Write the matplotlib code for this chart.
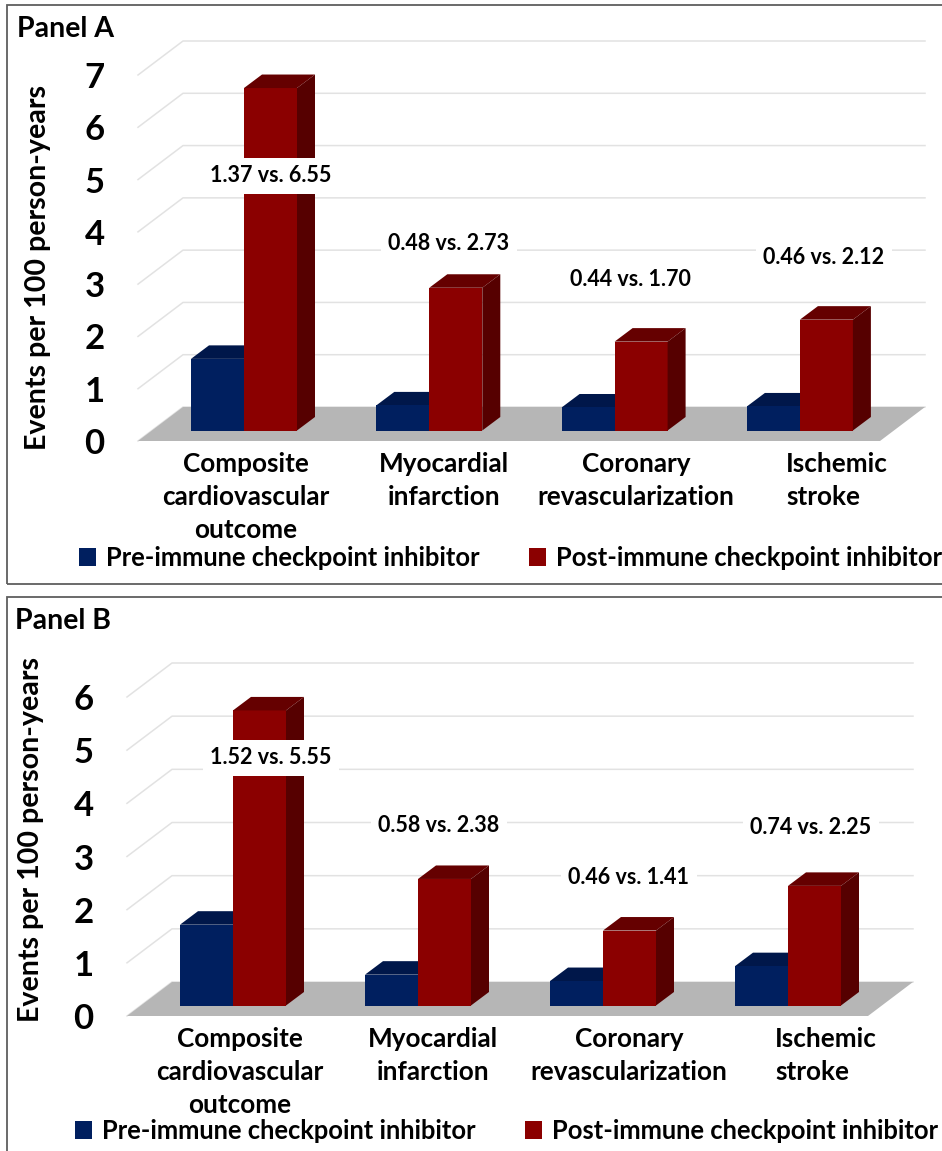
"""Pre vs post immune checkpoint inhibitor event rates, two faux-3D bar panels."""

import matplotlib
matplotlib.use("Agg")
import matplotlib.pyplot as plt
from matplotlib.patches import Patch, Polygon, Rectangle

plt.rcParams["font.family"] = ["Lato", "DejaVu Sans"]
plt.rcParams["font.weight"] = "bold"

categories = ["Composite\ncardiovascular\noutcome", "Myocardial\ninfarction",
              "Coronary\nrevascularization", "Ischemic\nstroke"]
series_names = ["Pre-immune checkpoint inhibitor", "Post-immune checkpoint inhibitor"]

pre_a = [1.37, 0.48, 0.44, 0.46]
post_a = [6.55, 2.73, 1.70, 2.12]
pre_b = [1.52, 0.58, 0.46, 0.74]
post_b = [5.55, 2.38, 1.41, 2.25]

W, H = 942, 1151
BLUE = ("#001F5F", "#00174A")
RED = ("#8B0000", "#650000", "#560000")
GRID = "#E2E2E2"
FLOOR = "#B6B6B6"

fig = plt.figure(figsize=(W / 100, H / 100), dpi=100, facecolor="white")


def fx(px):
    return px / W


def fy(py):
    return 1 - py / H


def draw_panel(title, pre, post, ymax, box, left, floor_y, top_y, group0, step,
               floor_right, label_pos, cat_x, ylabel_xy, title_xy, legend_x, legend_gap):
    fig.add_artist(Rectangle((fx(box[0]), fy(box[2])), 1.1, fy(box[1]) - fy(box[2]),
                             transform=fig.transFigure, fill=False,
                             edgecolor="#5E5E5E", linewidth=1.3))
    fig.text(fx(title_xy[0]), fy(title_xy[1]), title, fontsize=20.5, va="center", color="black")

    ax = fig.add_axes([fx(left), fy(floor_y), fx(W - left), fy(top_y) - fy(floor_y)])
    unit = (floor_y - top_y) / ymax
    ax.set_xlim((left - group0) / step, (W - group0) / step)
    ax.set_ylim(0, ymax)
    for s in ax.spines.values():
        s.set_visible(False)
    ax.patch.set_alpha(0)

    lift = 10.5 / unit            # bar base sits inside the floor
    back = 34 / unit              # floor depth, up
    back_x = 45 / step            # floor depth, across
    dx, dy = 18 / step, 13.5 / unit
    width = 53 / step

    # back wall gridlines with the stub towards the front
    x0 = ax.get_xlim()[0]
    x1 = (floor_right - group0) / step
    for v in range(ymax + 1):
        ax.plot([x0, x0 + back_x, x1 + back_x], [v, v + back, v + back],
                color=GRID, lw=1.1, zorder=1, clip_on=False)
    ax.add_patch(Polygon([(x0, 0), (x1, 0), (x1 + back_x, back), (x0 + back_x, back)],
                         facecolor=FLOOR, edgecolor="none", zorder=2, clip_on=False))

    xs = range(len(pre))
    for i in xs:
        xl = i - width
        top = lift + pre[i]
        ax.add_patch(Polygon([(xl, top), (i, top), (i + dx, top + dy), (xl + dx, top + dy)],
                             facecolor=BLUE[1], edgecolor="none", zorder=3, clip_on=False))
    ax.bar([i - width / 2 for i in xs], pre, width, bottom=lift, color=BLUE[0],
           zorder=4, clip_on=False)
    ax.bar([i + width / 2 for i in xs], post, width, bottom=lift, color=RED[0],
           zorder=5, clip_on=False)
    for i in xs:
        xr = i + width
        top = lift + post[i]
        ax.add_patch(Polygon([(i, top), (xr, top), (xr + dx, top + dy), (i + dx, top + dy)],
                             facecolor=RED[1], edgecolor="none", zorder=5, clip_on=False))
        ax.add_patch(Polygon([(xr, lift), (xr + dx, lift + dy), (xr + dx, top + dy), (xr, top)],
                             facecolor=RED[2], edgecolor="none", zorder=5, clip_on=False))
        lx, ly = label_pos[i]
        ax.text((lx - group0) / step, (floor_y - ly) / unit, f"{pre[i]:.2f} vs. {post[i]:.2f}",
                ha="center", va="center", fontsize=15.5, color="black", zorder=6,
                bbox=dict(facecolor="white", edgecolor="none", boxstyle="square,pad=0.33"))

    ax.set_yticks(range(ymax + 1))
    ax.tick_params(axis="y", length=0, pad=24, labelsize=25, labelcolor="black")
    ax.set_xticks([(c - group0) / step for c in cat_x])
    ax.set_xticklabels(categories, fontsize=18.8, linespacing=1.44)
    ax.tick_params(axis="x", length=0, pad=8, labelcolor="black")
    ax.get_xticklabels()[3].set_multialignment("left")

    ax.set_ylabel("Events per 100 person-years", fontsize=20.6, color="black",
                  fontweight="bold", va="center")
    ax.yaxis.set_label_coords((ylabel_xy[0] - left) / (W - left),
                              (floor_y - ylabel_xy[1]) / (floor_y - top_y))

    handles = [Patch(facecolor=BLUE[0], edgecolor="none"), Patch(facecolor=RED[0], edgecolor="none")]
    fig.legend(handles, series_names, ncol=2, frameon=False, loc="center left",
               bbox_to_anchor=(fx(legend_x[0]), fy(legend_x[1])), borderpad=0, borderaxespad=0,
               fontsize=18.4, handlelength=0.67, handleheight=0.67, handletextpad=0.39,
               columnspacing=legend_gap, labelcolor="black")


draw_panel("Panel A", pre_a, post_a, 7, box=(7, 5, 584), left=138, floor_y=441, top_y=75,
           group0=244, step=185.3, floor_right=880,
           label_pos=[(271, 176), (449, 243), (630, 279), (824, 257)],
           cat_x=[246, 444, 636, 837], ylabel_xy=(38, 267), title_xy=(17, 29),
           legend_x=(79, 558), legend_gap=1.92)
draw_panel("Panel B", pre_b, post_b, 6, box=(7, 597, 1160), left=127, floor_y=1016, top_y=697,
           group0=233, step=185.0, floor_right=868,
           label_pos=[(271, 758), (439, 825), (629, 877), (811, 828)],
           cat_x=[240, 433, 629, 826], ylabel_xy=(31, 840), title_xy=(15, 621),
           legend_x=(75, 1131), legend_gap=1.92)

fig.savefig("out.png", dpi=100)
